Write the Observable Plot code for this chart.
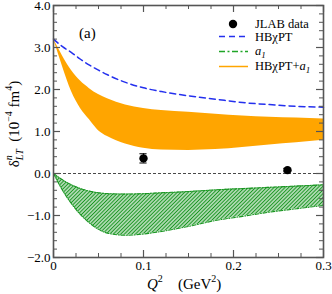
<!DOCTYPE html>
<html><head><meta charset="utf-8">
<script src="https://cdn.jsdelivr.net/npm/d3@7"></script>
<script src="https://cdn.jsdelivr.net/npm/@observablehq/plot@0.6"></script>
<style>
body{margin:0;background:#fff;} svg{display:block}
svg text { font-family: "Liberation Serif", "Times New Roman", serif !important; }
</style>
</head><body><div id="chart"></div>
<script>
// Q^2 grid (GeV^2)
const q        = [0, 0.01, 0.02, 0.03, 0.04, 0.05, 0.06, 0.08, 0.10, 0.12, 0.15, 0.18, 0.21, 0.24, 0.27, 0.30];
// HBχPT (dashed blue)
const hbchpt   = [3.2, 3.02, 2.88, 2.72, 2.58, 2.46, 2.35, 2.17, 2.04, 1.95, 1.85, 1.77, 1.69, 1.64, 1.60, 1.58];
// HBχPT + a1 band (orange)
const sumUpper = [3.2, 2.80, 2.45, 2.20, 2.02, 1.88, 1.78, 1.63, 1.55, 1.50, 1.46, 1.41, 1.37, 1.34, 1.32, 1.30];
const sumLower = [3.2, 2.55, 1.95, 1.55, 1.28, 1.02, 0.88, 0.70, 0.60, 0.56, 0.55, 0.57, 0.62, 0.68, 0.73, 0.79];
// a1 band (green hatched)
const a1Upper  = [0, -0.15, -0.27, -0.36, -0.42, -0.46, -0.48, -0.49, -0.48, -0.46, -0.43, -0.39, -0.36, -0.33, -0.30, -0.27];
const a1Lower  = [0, -0.40, -0.72, -0.98, -1.18, -1.33, -1.42, -1.47, -1.44, -1.38, -1.26, -1.12, -1.02, -0.92, -0.84, -0.76];
// JLAB data
const dataQ2    = [0.10, 0.26];
const dataDelta = [0.36, 0.08];
const dataErr   = [0.11, 0.04];
// ticks
const xMajor = [0, 0.1, 0.2, 0.3];
const xMinor = [0.025, 0.05, 0.075, 0.125, 0.15, 0.175, 0.225, 0.25, 0.275];
const yMajor = [-2, -1, 0, 1, 2, 3, 4];
const yMinor = [-1.8,-1.6,-1.4,-1.2,-0.8,-0.6,-0.4,-0.2,0.2,0.4,0.6,0.8,1.2,1.4,1.6,1.8,2.2,2.4,2.6,2.8,3.2,3.4,3.6,3.8];

const rows = q.map((x, i) => ({q: x, hb: hbchpt[i], su: sumUpper[i], sl: sumLower[i], au: a1Upper[i], al: a1Lower[i]}));
const pts = dataQ2.map((x, i) => ({q: x, y: dataDelta[i], e: dataErr[i]}));

const W = 332, H = 294, mL = 53, mR = 9, mT = 5, mB = 37;
const fw = W - mL - mR, fh = H - mT - mB;
const green = "#1a9622", axisC = "#555";
const serif = "'Liberation Serif', 'Times New Roman', serif";

const svg = Plot.plot({
  width: W, height: H, marginLeft: mL, marginRight: mR, marginTop: mT, marginBottom: mB,
  style: {fontFamily: serif, fontSize: "13px", background: "white", color: "black"},
  x: {domain: [0, 0.3]},
  y: {domain: [-2, 4]},
  marks: [
    Plot.areaY(rows, {x: "q", y1: "sl", y2: "su", fill: "#ffa500", curve: "monotone-x"}),
    Plot.areaY(rows, {x: "q", y1: "al", y2: "au", fill: "url(#hatch)", curve: "monotone-x"}),
    Plot.line(rows, {x: "q", y: "au", stroke: green, strokeWidth: 1.1, strokeDasharray: "4,1.5,1,1.5", curve: "monotone-x"}),
    Plot.line(rows, {x: "q", y: "al", stroke: green, strokeWidth: 1.1, strokeDasharray: "4,1.5,1,1.5", curve: "monotone-x"}),
    Plot.line(rows, {x: "q", y: "hb", stroke: "#2430ee", strokeWidth: 1.5, strokeDasharray: "6,4", curve: "monotone-x"}),
    Plot.ruleY([0], {stroke: "#333", strokeWidth: 0.9, strokeDasharray: "3,2"}),
    Plot.ruleX(pts, {x: "q", y1: d => d.y - d.e, y2: d => d.y + d.e, stroke: "black", strokeWidth: 1}),
    Plot.ruleY(pts, {x1: d => d.q - 0.004, x2: d => d.q + 0.004, y: d => d.y - d.e, stroke: "black"}),
    Plot.ruleY(pts, {x1: d => d.q - 0.004, x2: d => d.q + 0.004, y: d => d.y + d.e, stroke: "black"}),
    Plot.dot(pts, {x: "q", y: "y", r: 4.2, fill: "black"}),
    Plot.frame({stroke: axisC, strokeWidth: 1.6}),
    Plot.tickX(xMajor, {x: d => d, insetTop: fh - 7, stroke: axisC, strokeWidth: 1.2}),
    Plot.tickX(xMajor, {x: d => d, insetBottom: fh - 7, stroke: axisC, strokeWidth: 1.2}),
    Plot.tickX(xMinor, {x: d => d, insetTop: fh - 4, stroke: axisC}),
    Plot.tickX(xMinor, {x: d => d, insetBottom: fh - 4, stroke: axisC}),
    Plot.tickY(yMajor, {y: d => d, insetRight: fw - 7, stroke: axisC, strokeWidth: 1.2}),
    Plot.tickY(yMajor, {y: d => d, insetLeft: fw - 7, stroke: axisC, strokeWidth: 1.2}),
    Plot.tickY(yMinor, {y: d => d, insetRight: fw - 4, stroke: axisC}),
    Plot.tickY(yMinor, {y: d => d, insetLeft: fw - 4, stroke: axisC}),
    Plot.axisX({ticks: xMajor, tickSize: 0, tickPadding: 3, label: null, fontSize: 13,
      tickFormat: d => d === 0 ? "0" : String(d)}),
    Plot.axisY({ticks: yMajor, tickSize: 0, tickPadding: 3, label: null, fontSize: 13,
      tickFormat: d => (d < 0 ? "\u2212" : "") + Math.abs(d).toFixed(1)})
  ]
});

const s = d3.select(svg);
s.insert("defs", ":first-child").html(
  `<pattern id="hatch" patternUnits="userSpaceOnUse" width="2.6" height="2.6" patternTransform="rotate(45)">
     <rect width="2.6" height="2.6" fill="white"/>
     <line x1="1.3" y1="0" x2="1.3" y2="2.6" stroke="${green}" stroke-width="1.5"/>
   </pattern>`);

const g = s.append("g").attr("font-family", serif).attr("fill", "black").attr("text-anchor", "start");

// panel tag
g.append("text").attr("x", 79).attr("y", 38).attr("font-size", 15).text("(a)");

// y label
const yl = g.append("text").attr("transform", "translate(19,124) rotate(-90)")
  .attr("text-anchor", "middle").attr("font-size", 15);
yl.append("tspan").text("δ");
yl.append("tspan").attr("font-size", 10).attr("font-style", "italic").attr("dy", -7).text("n");
yl.append("tspan").attr("font-size", 10).attr("font-style", "italic").attr("dx", -5).attr("dy", 11).text("LT");
yl.append("tspan").attr("dy", -4).text("\u2002(10");
yl.append("tspan").attr("font-size", 10).attr("dy", -7).text("\u22124");
yl.append("tspan").attr("dy", 7).text(" fm");
yl.append("tspan").attr("font-size", 10).attr("dy", -7).text("4");
yl.append("tspan").attr("dy", 7).text(")");

// x label
const xl = g.append("text").attr("x", 147).attr("y", 289).attr("font-size", 15);
xl.append("tspan").attr("font-style", "italic").text("Q");
xl.append("tspan").attr("font-size", 10).attr("dy", -7).text("2");
const xl2 = g.append("text").attr("x", 178).attr("y", 289).attr("font-size", 15);
xl2.append("tspan").text("(GeV");
xl2.append("tspan").attr("font-size", 10).attr("dy", -7).text("2");
xl2.append("tspan").attr("dy", 7).text(")");

// legend
const lg = s.append("g").attr("font-family", serif).attr("font-size", 12.5).attr("text-anchor", "start").attr("fill", "black");
lg.append("circle").attr("cx", 233).attr("cy", 24).attr("r", 4.2).attr("fill", "black");
lg.append("text").attr("x", 255).attr("y", 28).text("JLAB data");
lg.append("line").attr("x1", 219).attr("x2", 248).attr("y1", 36.5).attr("y2", 36.5)
  .attr("stroke", "#2430ee").attr("stroke-width", 1.5).attr("stroke-dasharray", "6,4");
lg.append("text").attr("x", 255).attr("y", 40.5).text("HBχPT");
lg.append("line").attr("x1", 219).attr("x2", 248).attr("y1", 51.5).attr("y2", 51.5)
  .attr("stroke", "#1fa526").attr("stroke-width", 1.6).attr("stroke-dasharray", "6,2.5,2,2.5");
const la = lg.append("text").attr("x", 255).attr("y", 54.5);
la.append("tspan").attr("font-style", "italic").text("a");
la.append("tspan").attr("font-style", "italic").attr("font-size", 9).attr("dy", 3).text("1");
lg.append("line").attr("x1", 219).attr("x2", 248).attr("y1", 66.5).attr("y2", 66.5)
  .attr("stroke", "#ffa500").attr("stroke-width", 1.5);
const lb = lg.append("text").attr("x", 255).attr("y", 70);
lb.append("tspan").text("HBχPT+");
lb.append("tspan").attr("font-style", "italic").text("a");
lb.append("tspan").attr("font-style", "italic").attr("font-size", 9).attr("dy", 3).text("1");

document.getElementById("chart").append(svg);
</script>
</body></html>
